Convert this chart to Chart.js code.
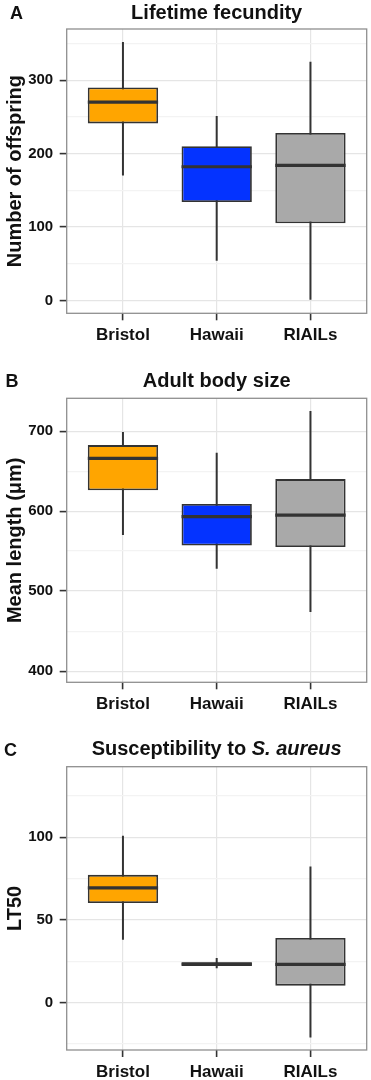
<!DOCTYPE html>
<html><head><meta charset="utf-8">
<script src="https://cdn.jsdelivr.net/npm/chart.js@4.4.1/dist/chart.umd.min.js"></script>
<style>
html,body{margin:0;padding:0;background:#fff;}
body{width:371px;height:1080px;position:relative;overflow:hidden;font-family:"Liberation Sans",Arial,sans-serif;}
canvas{position:absolute;left:0;}
.tag{position:absolute;font-weight:bold;font-size:18px;line-height:18px;color:#111;white-space:nowrap;}
.ttl{position:absolute;left:66.7px;width:300px;text-align:center;font-weight:bold;font-size:20px;line-height:20px;color:#111;white-space:nowrap;}
</style></head><body>
<canvas id="cA" width="371" height="360" style="top:0px"></canvas>
<canvas id="cB" width="371" height="360" style="top:360px"></canvas>
<canvas id="cC" width="371" height="360" style="top:720px"></canvas>
<div class="tag" style="left:10px;top:4px">A</div>
<div class="ttl" style="top:2.4px">Lifetime fecundity</div>
<div class="tag" style="left:5.5px;top:371.5px">B</div>
<div class="ttl" style="top:370.3px">Adult body size</div>
<div class="tag" style="left:4px;top:740.7px">C</div>
<div class="ttl" style="top:738px">Susceptibility to <i>S. aureus</i></div>
<script>
// ---- data ----
const categories = ['Bristol', 'Hawaii', 'RIAILs'];

const fecundityLow    = [170, 54, 0];
const fecundityQ1     = [241, 134, 105];
const fecundityMedian = [270, 182, 184];
const fecundityQ3     = [290, 210, 228];
const fecundityHigh   = [352, 251, 325];
const fecundityTicks  = [0, 100, 200, 300];
const fecundityMinor  = [50, 150, 250, 350];

const bodyLow    = [570, 528, 474];
const bodyQ1     = [626, 557, 555];
const bodyMedian = [666, 593, 595];
const bodyQ3     = [682.5, 609, 640];
const bodyHigh   = [699, 673, 725];
const bodyTicks  = [400, 500, 600, 700];
const bodyMinor  = [450, 550, 650];

const lt50Low    = [38, 20.8, -21];
const lt50Q1     = [60.3, 22.2, 10.3];
const lt50Median = [69.4, 23.3, 23.2];
const lt50Q3     = [77.3, 24.5, 39.1];
const lt50High   = [101, 27, 82.3];
const lt50Ticks  = [0, 50, 100];
const lt50Minor  = [-25, 25, 75, 125];

const boxColors = ['#FFA500', '#0433FF', '#A9A9A9'];

// ---- drawing ----
const boxExtras = {
  id: 'boxExtras',
  afterDatasetsDraw(chart, args, opts) {
    const meta = chart.getDatasetMeta(0);
    const ys = chart.scales.y;
    const ctx = chart.ctx;
    ctx.save();
    ctx.strokeStyle = '#333333';
    ctx.lineWidth = 3.2;
    meta.data.forEach((el, i) => {
      const py = ys.getPixelForValue(opts.medians[i]);
      ctx.beginPath();
      ctx.moveTo(el.x - el.width / 2, py);
      ctx.lineTo(el.x + el.width / 2, py);
      ctx.stroke();
    });
    const a = chart.chartArea;
    ctx.strokeStyle = '#8F8F8F';
    ctx.lineWidth = 1.3;
    ctx.strokeRect(a.left, a.top, a.right - a.left, a.bottom - a.top);
    ctx.restore();
  }
};

function makePanel(id, low, q1, med, q3, high, majors, minors, yMin, yMax, yTitle, padTop, xHeight) {
  const isMajor = v => majors.includes(v);
  new Chart(document.getElementById(id), {
    type: 'bar',
    data: {
      datasets: [
        {
          data: categories.map((c, i) => ({ x: i + 1, y: [q1[i], q3[i]] })),
          backgroundColor: boxColors,
          borderColor: '#333333',
          borderWidth: 1.8,
          borderSkipped: false,
          grouped: false,
          categoryPercentage: 1,
          barPercentage: 0.75
        },
        {
          data: categories.map((c, i) => ({ x: i + 1, y: [low[i], high[i]] })),
          backgroundColor: '#333333',
          borderWidth: 0,
          grouped: false,
          categoryPercentage: 1,
          barPercentage: 0.75,
          maxBarThickness: 2
        }
      ]
    },
    options: {
      responsive: false,
      animation: false,
      layout: { padding: { top: padTop, right: 4.3, left: 0, bottom: 0 } },
      plugins: {
        legend: { display: false },
        tooltip: { enabled: false },
        boxExtras: { medians: med }
      },
      scales: {
        x: {
          type: 'linear', min: 0.4, max: 3.6, offset: false,
          afterBuildTicks: s => { s.ticks = categories.map((c, i) => ({ value: i + 1 })); },
          afterFit: s => { s.height = xHeight; },
          ticks: {
            autoSkip: false, maxRotation: 0, padding: 5,
            callback: v => categories[v - 1] || '',
            font: { size: 17, weight: 'bold', family: '"Liberation Sans", Arial, sans-serif' },
            color: '#111'
          },
          grid: { offset: false, color: '#E5E5E5', lineWidth: 1.2, tickLength: 7, tickColor: '#333', tickWidth: 1.6 },
          border: { display: false }
        },
        y: {
          type: 'linear', min: yMin, max: yMax,
          afterBuildTicks: s => { s.ticks = majors.concat(minors).sort((a, b) => a - b).map(v => ({ value: v })); },
          afterFit: s => { s.width = 66.7; },
          ticks: {
            autoSkip: false, padding: 6.5,
            callback: v => isMajor(v) ? String(v) : '',
            font: { size: 15, weight: 'bold', family: '"Liberation Sans", Arial, sans-serif' },
            color: '#111'
          },
          grid: {
            color: c => (c.tick && isMajor(c.tick.value)) ? '#E5E5E5' : '#F3F3F3',
            tickColor: c => (c.tick && isMajor(c.tick.value)) ? '#333' : 'rgba(0,0,0,0)',
            lineWidth: 1.2, tickLength: 7, tickWidth: 1.6
          },
          border: { display: false },
          title: {
            display: true, text: yTitle, color: '#111',
            font: { size: 20, weight: 'bold', family: '"Liberation Sans", Arial, sans-serif' },
            padding: { top: 3.5, bottom: 0 }
          }
        }
      }
    },
    plugins: [boxExtras]
  });
}

makePanel('cA', fecundityLow, fecundityQ1, fecundityMedian, fecundityQ3, fecundityHigh,
  fecundityTicks, fecundityMinor, -17.6, 369.6, 'Number of offspring', 29, 46.7);
makePanel('cB', bodyLow, bodyQ1, bodyMedian, bodyQ3, bodyHigh,
  bodyTicks, bodyMinor, 386, 741, 'Mean length (μm)', 38.3, 37.7);
makePanel('cC', lt50Low, lt50Q1, lt50Median, lt50Q3, lt50High,
  lt50Ticks, lt50Minor, -28.6, 142.7, 'LT50', 46.7, 30);
</script>
</body></html>
